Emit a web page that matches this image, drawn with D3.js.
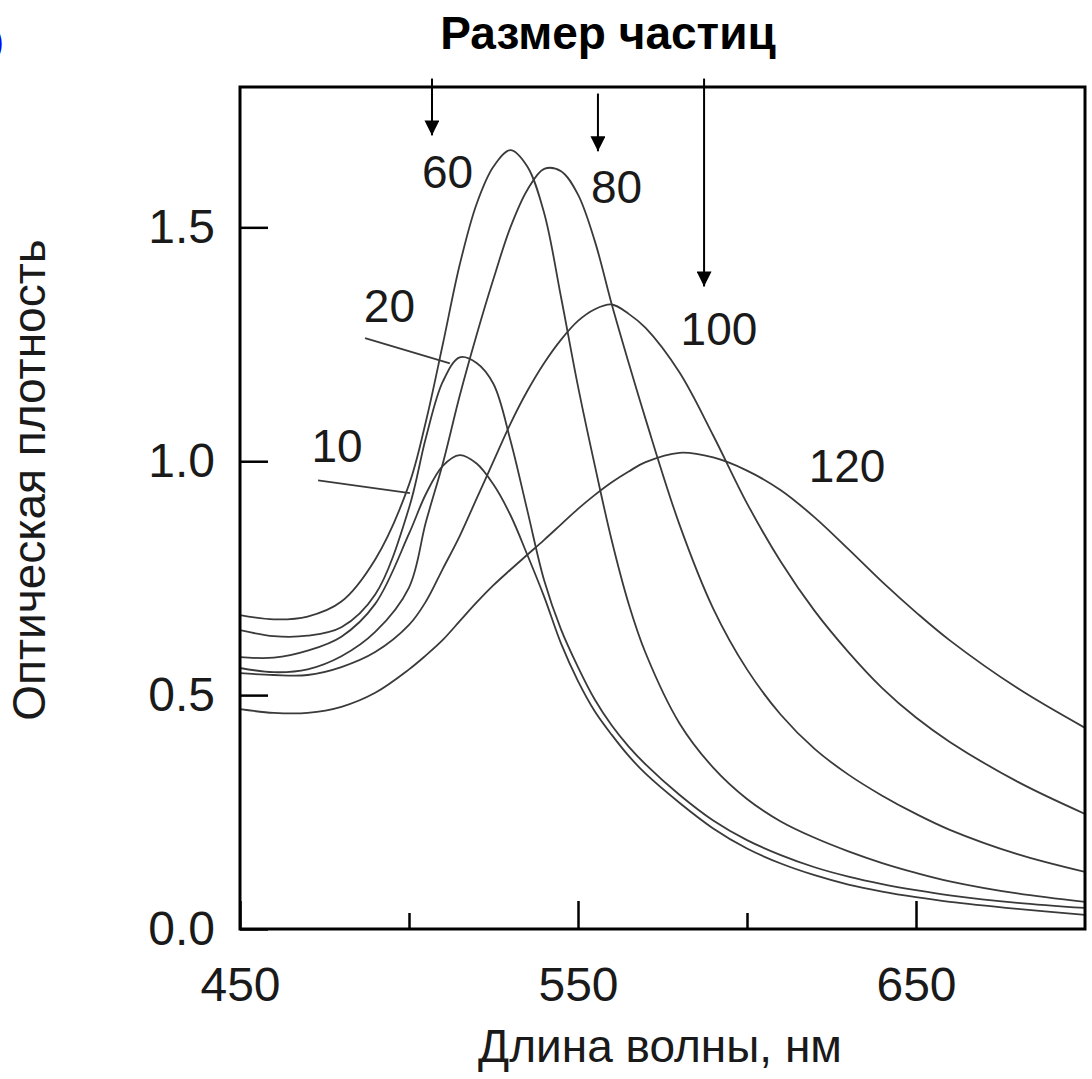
<!DOCTYPE html>
<html>
<head>
<meta charset="utf-8">
<script src="https://cdn.jsdelivr.net/npm/d3@7"></script>
<style>
  body { margin: 0; background: #fff; }
  svg { display: block; font-family: "Liberation Sans", Arial, sans-serif; }
</style>
</head>
<body>
<script>
// wavelength grid, nm
var lambda = [450,460,470,480,490,500,505,510,515,520,525,530,535,540,545,550,555,560,565,570,580,590,600,610,620,630,640,650,660,680,700];

// optical density per particle size (nm)
var od10  = [.581,.580,.595,.625,.695,.845,.930,.990,1.013,.995,.950,.885,.800,.710,.610,.530,.465,.415,.370,.332,.270,.215,.172,.140,.115,.095,.080,.068,.058,.043,.030];
var od20  = [.639,.626,.627,.645,.715,.900,1.050,1.170,1.222,1.210,1.165,1.045,.895,.745,.640,.560,.490,.435,.390,.352,.287,.232,.190,.158,.132,.112,.096,.083,.072,.056,.045];
var od60  = [.671,.662,.668,.700,.790,.950,1.085,1.250,1.420,1.550,1.630,1.665,1.630,1.530,1.350,1.160,.990,.830,.695,.590,.440,.345,.278,.230,.195,.166,.141,.120,.102,.076,.058];
var od80  = [.558,.549,.555,.583,.635,.730,.870,.995,1.140,1.270,1.390,1.500,1.580,1.625,1.620,1.570,1.470,1.335,1.210,1.090,.865,.685,.555,.458,.385,.330,.285,.246,.212,.160,.122];
var od100 = [.547,.543,.543,.560,.592,.650,.700,.770,.840,.920,1.000,1.080,1.150,1.210,1.260,1.300,1.325,1.335,1.315,1.285,1.190,1.055,.910,.785,.680,.592,.515,.452,.400,.315,.246];
var od120 = [.470,.462,.462,.475,.505,.555,.585,.618,.658,.698,.735,.768,.800,.832,.865,.898,.928,.955,.978,.998,1.018,1.008,.980,.938,.880,.812,.742,.677,.617,.515,.430];

var sizes = ["10","20","60","80","100","120"];
var seriesValues = [od10, od20, od60, od80, od100, od120];

// label anchor points [lambda, od]
var labelPos = [[478.7,0.998],[494.2,1.297],[511.4,1.585],[561.4,1.553],[591.7,1.248],[629.6,0.955]];
// leader lines for 10 and 20
var leaders = [[[473.1,0.959],[500.3,0.932]], [[487,1.263],[512.1,1.209]]];
// arrows from the title: [lambda, od top, od tip]
var arrows = [[506.8,1.818,1.688],[555.9,1.786,1.654],[587.3,1.818,1.365]];

var xMajor = [450,550,650];
var xMinor = [500,600];
var yTicks = [0,0.5,1.0,1.5];

var width = 1092, height = 1079;
var margin = {left: 240, top: 87, right: 1085, bottom: 929};

var svg = d3.select("body").append("svg")
  .attr("width", width)
  .attr("height", height);

var x = d3.scaleLinear().domain([450,700]).range([margin.left, margin.right]);
var y = d3.scaleLinear().domain([0,1.8]).range([margin.bottom, margin.top]);

var defs = svg.append("defs");
defs.append("clipPath").attr("id","plot")
  .append("rect")
  .attr("x", margin.left).attr("y", margin.top)
  .attr("width", margin.right - margin.left)
  .attr("height", margin.bottom - margin.top);

/* curves */
var line = d3.line()
  .x(function(d){ return x(d[0]); })
  .y(function(d){ return y(d[1]); })
  .curve(d3.curveCatmullRom.alpha(0.5));

svg.append("g")
  .attr("clip-path","url(#plot)")
  .selectAll("path")
  .data(seriesValues)
  .enter().append("path")
    .attr("d", function(vals){ return line(lambda.map(function(l,i){ return [l, vals[i]]; })); })
    .attr("fill","none")
    .attr("stroke","#3a3a3a")
    .attr("stroke-width",1.8);

/* leader lines */
svg.append("g").selectAll("path")
  .data(leaders)
  .enter().append("path")
    .attr("d", d3.line().x(function(d){ return x(d[0]); }).y(function(d){ return y(d[1]); }))
    .attr("stroke","#3a3a3a")
    .attr("stroke-width",1.8);

/* axes */
var xAxis = svg.append("g")
  .attr("transform","translate(0," + margin.bottom + ")")
  .call(d3.axisBottom(x).tickValues(xMajor).tickSize(-28).tickPadding(38).tickFormat(d3.format("d")));
svg.append("g")
  .attr("transform","translate(0," + margin.bottom + ")")
  .call(d3.axisBottom(x).tickValues(xMinor).tickSize(-16).tickFormat(""));
var yAxis = svg.append("g")
  .attr("transform","translate(" + margin.left + ",0)")
  .call(d3.axisLeft(y).tickValues(yTicks).tickSize(-28).tickPadding(25).tickFormat(d3.format(".1f")));

svg.selectAll(".domain").remove();
svg.selectAll(".tick line").attr("stroke","#000").attr("stroke-width",2.5);
xAxis.selectAll("text").attr("font-size",48).attr("fill","#1a1a1a").attr("font-family","Liberation Sans, Arial, sans-serif");
yAxis.selectAll("text").attr("font-size",48).attr("fill","#1a1a1a").attr("font-family","Liberation Sans, Arial, sans-serif");

/* frame */
svg.append("rect")
  .attr("x", margin.left).attr("y", margin.top)
  .attr("width", margin.right - margin.left)
  .attr("height", margin.bottom - margin.top)
  .attr("fill","none")
  .attr("stroke","#000")
  .attr("stroke-width",3);

/* curve labels */
svg.append("g").selectAll("text")
  .data(sizes)
  .enter().append("text")
    .attr("x", function(d,i){ return x(labelPos[i][0]); })
    .attr("y", function(d,i){ return y(labelPos[i][1]); })
    .attr("text-anchor","middle")
    .attr("font-size",46)
    .attr("fill","#1a1a1a")
    .text(function(d){ return d; });

/* arrows */
defs.append("marker")
  .attr("id","head")
  .attr("viewBox","0 0 10 10")
  .attr("refX",10).attr("refY",5)
  .attr("markerWidth",15).attr("markerHeight",15)
  .attr("markerUnits","userSpaceOnUse")
  .attr("orient","auto")
  .append("path").attr("d","M0,0L10,5L0,10Z").attr("fill","#000");

svg.append("g").selectAll("line")
  .data(arrows)
  .enter().append("line")
    .attr("x1", function(d){ return x(d[0]); })
    .attr("x2", function(d){ return x(d[0]); })
    .attr("y1", function(d){ return y(d[1]); })
    .attr("y2", function(d){ return y(d[2]) - 4; })
    .attr("stroke","#000")
    .attr("stroke-width",2)
    .attr("marker-end","url(#head)");

/* titles */
svg.append("text")
  .attr("x", 608).attr("y", 49)
  .attr("text-anchor","middle")
  .attr("font-size",46)
  .attr("font-weight","bold")
  .attr("fill","#000")
  .text("Размер частиц");

svg.append("text")
  .attr("x", 660).attr("y", 1062)
  .attr("text-anchor","middle")
  .attr("font-size",46)
  .attr("fill","#1a1a1a")
  .text("Длина волны, нм");

svg.append("text")
  .attr("transform","translate(45,480) rotate(-90)")
  .attr("text-anchor","middle")
  .attr("font-size",46)
  .attr("fill","#1a1a1a")
  .text("Оптическая плотность");

// cropped blue panel mark at the edge, as in the source
svg.append("text")
  .attr("x", 4).attr("y", 54)
  .attr("text-anchor","end")
  .attr("font-size",38)
  .attr("fill","#0000ff")
  .text("б)");
</script>
</body>
</html>
